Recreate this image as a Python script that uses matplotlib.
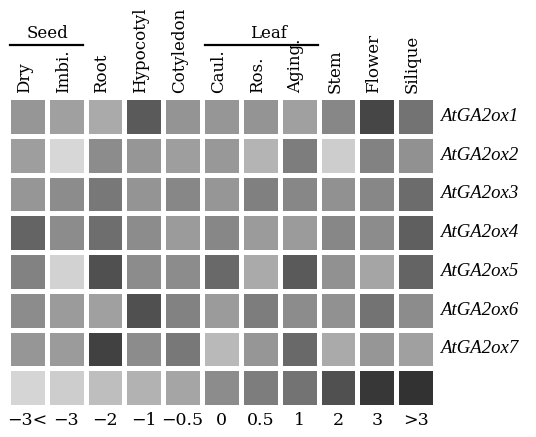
import numpy as np
import matplotlib
matplotlib.use("Agg")
import matplotlib.pyplot as plt

tissues = ["Dry", "Imbi.", "Root", "Hypocotyl", "Cotyledon", "Caul.", "Ros.",
           "Aging.", "Stem", "Flower", "Silique"]
genes = ["AtGA2ox1", "AtGA2ox2", "AtGA2ox3", "AtGA2ox4", "AtGA2ox5",
         "AtGA2ox6", "AtGA2ox7"]
scale_labels = ["\u22123<", "\u22123", "\u22122", "\u22121", "\u22120.5", "0",
                "0.5", "1", "2", "3", ">3"]

# gray intensity of each cell (0 = black, 255 = white)
gray_ga2ox1 = [150, 160, 170, 90, 148, 150, 148, 160, 135, 70, 115]
gray_ga2ox2 = [158, 215, 140, 150, 158, 152, 180, 125, 205, 130, 145]
gray_ga2ox3 = [150, 140, 120, 148, 135, 150, 128, 135, 145, 135, 108]
gray_ga2ox4 = [100, 140, 110, 140, 155, 135, 155, 155, 135, 140, 95]
gray_ga2ox5 = [130, 210, 80, 140, 140, 105, 170, 90, 145, 165, 100]
gray_ga2ox6 = [140, 155, 160, 80, 130, 155, 125, 140, 145, 115, 140]
gray_ga2ox7 = [150, 155, 65, 140, 120, 185, 150, 105, 170, 150, 160]
gray_scale = [213, 205, 190, 178, 165, 140, 125, 115, 80, 55, 50]

data = np.array([gray_ga2ox1, gray_ga2ox2, gray_ga2ox3, gray_ga2ox4,
                 gray_ga2ox5, gray_ga2ox6, gray_ga2ox7, gray_scale], dtype=float)

W, H = 536, 437
fig = plt.figure(figsize=(W / 100, H / 100), dpi=100)
ax = fig.add_axes([8 / W, (H - 407) / H, 427 / W, 310 / H])

nrows, ncols = data.shape
ax.pcolormesh(np.arange(ncols + 1), np.arange(nrows + 1), data, cmap="gray",
              vmin=0, vmax=255, edgecolors="white", linewidth=2.2)
ax.set_xlim(0, ncols)
ax.set_ylim(nrows, 0)
ax.axis("off")

lab_font = "DejaVu Serif"
for j, t in enumerate(tissues):
    ax.text(j + 0.42, -0.1, t, rotation=90, ha="center", va="bottom",
            fontsize=12, family=lab_font, clip_on=False)

for i, g in enumerate(genes):
    ax.text(11.12, i + 0.5, g, ha="left", va="center", fontsize=13.5,
            family="Liberation Serif", style="italic", clip_on=False)

for j, s in enumerate(scale_labels):
    ax.text(j + 0.5, 8.36, s, ha="center", va="center", fontsize=12.5,
            family=lab_font, clip_on=False)

# group labels
ax.plot([0.05, 1.93], [-1.34, -1.34], color="black", lw=1.6, clip_on=False)
ax.text(1.03, -1.42, "Seed", ha="center", va="bottom", fontsize=12,
        family=lab_font, clip_on=False)
ax.plot([5.08, 7.99], [-1.34, -1.34], color="black", lw=1.6, clip_on=False)
ax.text(6.7, -1.42, "Leaf", ha="center", va="bottom", fontsize=12,
        family=lab_font, clip_on=False)

fig.savefig("out.png", dpi=100, facecolor="white")
